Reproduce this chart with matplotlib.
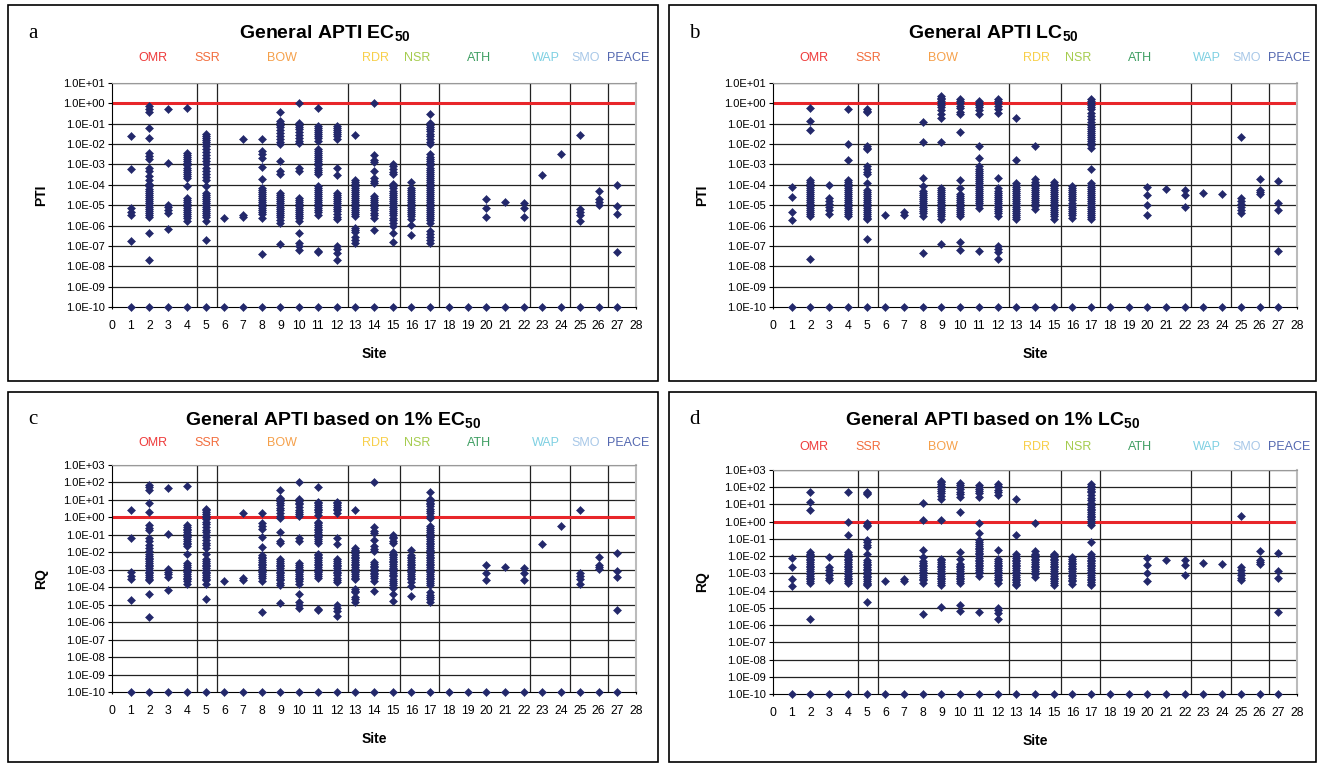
"""Four-panel PTI / RQ scatter by site (EC50 and LC50)."""

import matplotlib
matplotlib.use("Agg")
from matplotlib import pyplot as plt
from matplotlib.patches import Rectangle

plt.rcParams["font.family"] = ["Liberation Sans", "DejaVu Sans"]
plt.rcParams["mathtext.fontset"] = "custom"
plt.rcParams["mathtext.rm"] = "Liberation Sans"
plt.rcParams["mathtext.default"] = "regular"

W, H = 1319, 766

sites = list(range(1, 28))
regions = ["OMR", "SSR", "BOW", "RDR", "NSR", "ATH", "WAP", "SMO", "PEACE"]
region_pos = [2.2, 5.1, 9.1, 14.1, 16.3, 19.6, 23.2, 25.3, 27.6]
region_colors = ["#EE3B3B", "#F26D3D", "#F5A04A", "#F7CF4A", "#A5CC4E",
                 "#3E9E62", "#7ED0E2", "#A8C8E8", "#5468B0"]
separators = [4.55, 5.6, 12.6, 15.4, 17.45, 22.35, 24.45, 26.5]

# PTI values, as log10, one list per site (1..27).
# Sites with PTI = 0 are shown on the 1.0E-10 floor (all sites have some).
ec50_log_pti = [
    [-1.6, -3.2, -5.15, -5.35, -5.5, -6.75],
    [-0.13, -0.26, -0.43, -1.2, -1.72, -2.46, -2.59, -2.75, -3.18, -3.33,
     -3.57, -3.74, -3.95, -4.07, -4.2, -4.3, -4.4, -4.5, -4.6, -4.7, -4.8,
     -4.9, -5.0, -5.1, -5.2, -5.3, -5.4, -5.5, -5.6, -6.38, -7.69],
    [-0.3, -2.93, -4.97, -5.1, -5.25, -5.4, -6.16],
    [-0.21, -2.43, -2.55, -2.65, -2.75, -2.85, -2.95, -3.05, -3.15, -3.25,
     -3.35, -3.45, -3.55, -3.66, -4.07, -4.64, -4.75, -4.85, -4.95, -5.05,
     -5.15, -5.25, -5.35, -5.45, -5.55, -5.65, -5.79],
    [-1.52, -1.6, -1.7, -1.8, -1.9, -2.0, -2.1, -2.26, -2.4, -2.55, -2.7,
     -2.85, -3.0, -3.15, -3.3, -3.45, -3.6, -3.74, -4.07, -4.39, -4.5, -4.6,
     -4.7, -4.8, -4.9, -5.0, -5.1, -5.2, -5.3, -5.4, -5.5, -5.6, -5.79, -6.69],
    [-5.62],
    [-1.77, -5.46, -5.6],
    [-1.77, -2.34, -2.5, -2.67, -3.13, -3.7, -4.15, -4.25, -4.35, -4.45,
     -4.55, -4.65, -4.75, -4.85, -4.95, -5.05, -5.15, -5.25, -5.35, -5.45,
     -5.62, -7.39],
    [-0.41, -0.87, -0.97, -1.07, -1.17, -1.3, -1.45, -1.6, -1.75, -1.9, -2.02,
     -2.84, -3.33, -3.49, -4.39, -4.5, -4.6, -4.7, -4.8, -4.9, -5.0, -5.1,
     -5.2, -5.3, -5.4, -5.5, -5.6, -5.75, -5.87, -6.93],
    [0.0, -0.95, -1.05, -1.15, -1.25, -1.4, -1.55, -1.7, -1.83, -1.93, -3.16,
     -3.33, -4.64, -4.75, -4.85, -4.95, -5.05, -5.15, -5.25, -5.35, -5.45,
     -5.55, -5.65, -5.79, -6.38, -6.85, -7.0, -7.18],
    [-0.25, -1.11, -1.2, -1.3, -1.4, -1.5, -1.6, -1.7, -1.85, -2.26, -2.35,
     -2.45, -2.55, -2.65, -2.75, -2.85, -2.95, -3.05, -3.15, -3.25, -3.35,
     -3.49, -4.07, -4.15, -4.25, -4.35, -4.45, -4.55, -4.65, -4.75, -4.85,
     -4.95, -5.05, -5.15, -5.25, -5.35, -5.46, -7.25, -7.31],
    [-1.11, -1.2, -1.3, -1.4, -1.5, -1.6, -1.77, -3.16, -3.54, -4.39, -4.5,
     -4.6, -4.7, -4.8, -4.9, -5.0, -5.1, -5.2, -5.3, -5.45, -5.6, -5.7, -7.0,
     -7.17, -7.34, -7.67],
    [-1.56, -3.74, -3.85, -3.95, -4.05, -4.15, -4.25, -4.35, -4.45, -4.55,
     -4.65, -4.75, -4.85, -4.95, -5.05, -5.15, -5.25, -5.35, -5.45, -5.54,
     -6.11, -6.2, -6.3, -6.55, -6.7, -6.85],
    [0.0, -2.54, -2.79, -2.88, -3.3, -3.66, -3.8, -3.9, -4.56, -4.66, -4.76,
     -4.86, -4.96, -5.06, -5.16, -5.26, -5.36, -5.46, -5.62, -6.21],
    [-3.0, -3.1, -3.2, -3.35, -3.49, -3.98, -4.08, -4.18, -4.28, -4.38, -4.48,
     -4.58, -4.68, -4.78, -4.88, -4.98, -5.08, -5.18, -5.28, -5.38, -5.5,
     -5.62, -5.75, -5.88, -6.03, -6.36, -6.8],
    [-3.87, -4.15, -4.25, -4.35, -4.45, -4.55, -4.65, -4.75, -4.85, -4.95,
     -5.05, -5.15, -5.25, -5.35, -5.45, -5.55, -5.7, -5.95, -6.48],
    [-0.54, -0.95, -1.05, -1.15, -1.25, -1.35, -1.5, -1.62, -1.75, -1.9,
     -2.02, -2.51, -2.62, -2.75, -2.85, -2.95, -3.05, -3.15, -3.25, -3.35,
     -3.45, -3.55, -3.65, -3.75, -3.85, -3.95, -4.05, -4.15, -4.25, -4.35,
     -4.45, -4.55, -4.65, -4.75, -4.85, -4.95, -5.05, -5.15, -5.25, -5.35,
     -5.45, -5.55, -5.65, -5.75, -5.87, -6.28, -6.42, -6.55, -6.7, -6.85],
    [],
    [],
    [-4.72, -5.16, -5.57],
    [-4.85],
    [-4.89, -5.16, -5.57],
    [-3.54],
    [-2.48],
    [-1.56, -5.21, -5.35, -5.5, -5.79],
    [-4.28, -4.72, -4.85, -4.97],
    [-4.02, -5.05, -5.43, -7.3],
]

lc50_log_pti = [
    [-4.1, -4.61, -5.34, -5.74],
    [-0.25, -0.87, -1.33, -3.74, -3.85, -3.95, -4.05, -4.15, -4.25, -4.35,
     -4.45, -4.55, -4.65, -4.75, -4.85, -4.95, -5.05, -5.15, -5.25, -5.35,
     -5.45, -5.54, -7.64],
    [-4.03, -4.64, -4.8, -4.95, -5.1, -5.25, -5.41],
    [-0.3, -2.02, -2.79, -3.74, -3.85, -3.95, -4.05, -4.15, -4.25, -4.35,
     -4.45, -4.55, -4.65, -4.75, -4.85, -4.95, -5.05, -5.15, -5.25, -5.35,
     -5.45, -5.54],
    [-0.3, -0.36, -0.42, -2.1, -2.18, -2.26, -3.08, -3.2, -3.35, -3.49, -3.9,
     -4.23, -4.33, -4.43, -4.53, -4.63, -4.73, -4.83, -4.93, -5.03, -5.13,
     -5.23, -5.33, -5.43, -5.53, -5.63, -5.7, -6.64],
    [-5.46],
    [-5.33, -5.46],
    [-0.9, -1.89, -3.66, -4.07, -4.3, -4.4, -4.5, -4.6, -4.7, -4.8, -4.9,
     -5.0, -5.1, -5.2, -5.3, -5.4, -5.54, -7.34],
    [0.36, 0.28, 0.2, 0.1, 0.0, -0.1, -0.2, -0.35, -0.5, -0.7, -1.9, -4.15,
     -4.25, -4.35, -4.45, -4.55, -4.65, -4.75, -4.85, -4.95, -5.05, -5.15,
     -5.25, -5.35, -5.45, -5.55, -5.7, -6.93],
    [0.23, 0.12, 0.0, -0.12, -0.25, -0.4, -0.54, -1.41, -3.74, -4.15, -4.45,
     -4.55, -4.65, -4.75, -4.85, -4.95, -5.05, -5.15, -5.25, -5.35, -5.45,
     -5.54, -6.82, -7.18],
    [0.11, 0.0, -0.1, -0.2, -0.35, -0.54, -2.07, -2.67, -3.08, -3.2, -3.3,
     -3.4, -3.5, -3.6, -3.7, -3.8, -3.9, -4.0, -4.1, -4.2, -4.3, -4.4, -4.5,
     -4.6, -4.7, -4.8, -4.9, -5.0, -5.13, -7.26],
    [0.2, 0.1, 0.0, -0.15, -0.3, -0.46, -3.66, -4.15, -4.3, -4.4, -4.5, -4.6,
     -4.7, -4.8, -4.9, -5.0, -5.1, -5.2, -5.3, -5.4, -5.54, -7.02, -7.15,
     -7.3, -7.64],
    [-0.7, -2.79, -3.9, -4.0, -4.1, -4.2, -4.3, -4.4, -4.5, -4.6, -4.7, -4.8,
     -4.9, -5.0, -5.1, -5.2, -5.3, -5.4, -5.5, -5.6, -5.7],
    [-2.07, -3.7, -3.85, -3.95, -4.05, -4.15, -4.25, -4.35, -4.45, -4.55,
     -4.65, -4.75, -4.85, -4.95, -5.05, -5.2],
    [-3.85, -3.95, -4.05, -4.15, -4.25, -4.35, -4.45, -4.55, -4.65, -4.75,
     -4.85, -4.95, -5.05, -5.15, -5.25, -5.35, -5.45, -5.55, -5.7],
    [-4.07, -4.17, -4.27, -4.37, -4.47, -4.57, -4.67, -4.77, -4.87, -4.97,
     -5.07, -5.17, -5.27, -5.37, -5.47, -5.62],
    [0.2, 0.1, 0.0, -0.1, -0.2, -0.3, -0.45, -0.6, -0.75, -0.9, -1.05, -1.15,
     -1.25, -1.35, -1.45, -1.55, -1.65, -1.75, -1.85, -1.95, -2.05, -2.18,
     -3.2, -3.9, -4.0, -4.1, -4.2, -4.3, -4.4, -4.5, -4.6, -4.7, -4.8, -4.9,
     -5.0, -5.1, -5.2, -5.3, -5.4, -5.5, -5.6, -5.7],
    [],
    [],
    [-4.1, -4.49, -5.0, -5.46],
    [-4.2],
    [-4.23, -4.49, -5.1],
    [-4.39],
    [-4.44],
    [-1.66, -4.64, -4.8, -4.95, -5.1, -5.25, -5.38],
    [-3.7, -4.23, -4.33, -4.43],
    [-3.79, -4.89, -5.25, -7.25],
]

FLOOR = 1e-10          # where PTI = 0 is plotted
THRESHOLD = 1.0        # red reference line
RQ_FACTOR = 100.0      # RQ based on 1% EC50/LC50 = PTI x 100

MARKER_COLOR = "#23286B"


def px(x, y):
    """Pixel position (from top-left) to figure fraction."""
    return x / W, 1 - y / H


def draw_panel(fig, box, ax_px, letter, title, title_x, ylabel,
               log_values, factor, top_exp, label_y):
    bx0, by0, bx1, by1 = box
    fig.patches.append(Rectangle(px(bx0, by1), (bx1 - bx0) / W,
                                 (by1 - by0) / H, transform=fig.transFigure,
                                 fill=False, edgecolor="black", lw=1.2))
    fx, fy = px(bx0 + 25, by0 + 28)
    fig.text(fx, fy, letter, family="Liberation Serif", fontsize=15,
             ha="center", va="center")
    fx, fy = px(title_x, by0 + 28)
    fig.text(fx, fy, title, fontsize=14, fontweight="bold",
             ha="center", va="center")

    x0, y0, x1, y1 = ax_px
    ax = fig.add_axes([x0 / W, 1 - y1 / H, (x1 - x0) / W, (y1 - y0) / H])
    ax.set_yscale("log")
    ax.set_xlim(0, 28)
    ax.set_ylim(FLOOR, 10.0 ** top_exp)

    for k in range(-9, top_exp + 1):
        ax.axhline(10.0 ** k, color="#222222", lw=0.9, zorder=1)
    for s in separators:
        ax.axvline(s, color="#222222", lw=0.9, zorder=1)

    xs, ys = [], []
    for site, vals in zip(sites, log_values):
        for v in vals:
            xs.append(site)
            ys.append(10.0 ** v * factor)
        xs.append(site)
        ys.append(FLOOR)
    ax.plot(xs, ys, linestyle="none", marker="D", markersize=4.0,
            color=MARKER_COLOR, markeredgewidth=0.4, zorder=3,
            clip_on=False)
    ax.axhline(THRESHOLD, color="#E8262A", lw=2.2, zorder=2)

    ax.set_yticks([10.0 ** k for k in range(-10, top_exp + 1)])
    ax.yaxis.set_minor_locator(plt.NullLocator())
    ax.set_yticklabels([f"{10.0 ** k:.1E}" for k in range(-10, top_exp + 1)])
    ax.set_xticks(range(0, 29))
    ax.tick_params(axis="y", labelsize=8, length=3, pad=2)
    ax.tick_params(axis="x", labelsize=8.8, length=3, pad=8,
                   direction="inout")
    ax.spines["top"].set_color("#999999")
    ax.spines["right"].set_color("#BBBBBB")
    ax.spines["right"].set_linewidth(1.5)

    for name, pos, col in zip(regions, region_pos, region_colors):
        lx = x0 + pos * (x1 - x0) / 28
        fx, fy = px(lx, label_y)
        fig.text(fx, fy, name, color=col, fontsize=9, ha="center",
                 va="center")

    fx, fy = px(bx0 + 33, (y0 + y1) / 2)
    fig.text(fx, fy, ylabel, fontsize=10, fontweight="bold", rotation=90,
             ha="center", va="center")
    fx, fy = px((x0 + x1) / 2, y1 + 47)
    fig.text(fx, fy, "Site", fontsize=10, fontweight="bold",
             ha="center", va="center")


def main():
    fig = plt.figure(figsize=(W / 100, H / 100), dpi=100)
    draw_panel(fig, (8, 5, 658, 381), (112, 83, 636, 307), "a",
               "General APTI EC$_{50}$", 325, "PTI", ec50_log_pti, 1.0, 1, 58)
    draw_panel(fig, (669, 5, 1316, 381), (773, 83, 1297, 307), "b",
               "General APTI LC$_{50}$", 993, "PTI", lc50_log_pti, 1.0, 1, 58)
    draw_panel(fig, (8, 392, 658, 762), (112, 465, 636, 692), "c",
               "General APTI based on 1% EC$_{50}$", 333, "RQ",
               ec50_log_pti, RQ_FACTOR, 3, 443)
    draw_panel(fig, (669, 392, 1316, 762), (773, 470, 1297, 694), "d",
               "General APTI based on 1% LC$_{50}$", 993, "RQ",
               lc50_log_pti, RQ_FACTOR, 3, 447)
    fig.savefig("out.png", dpi=100)
    plt.close(fig)


if __name__ == "__main__":
    main()
